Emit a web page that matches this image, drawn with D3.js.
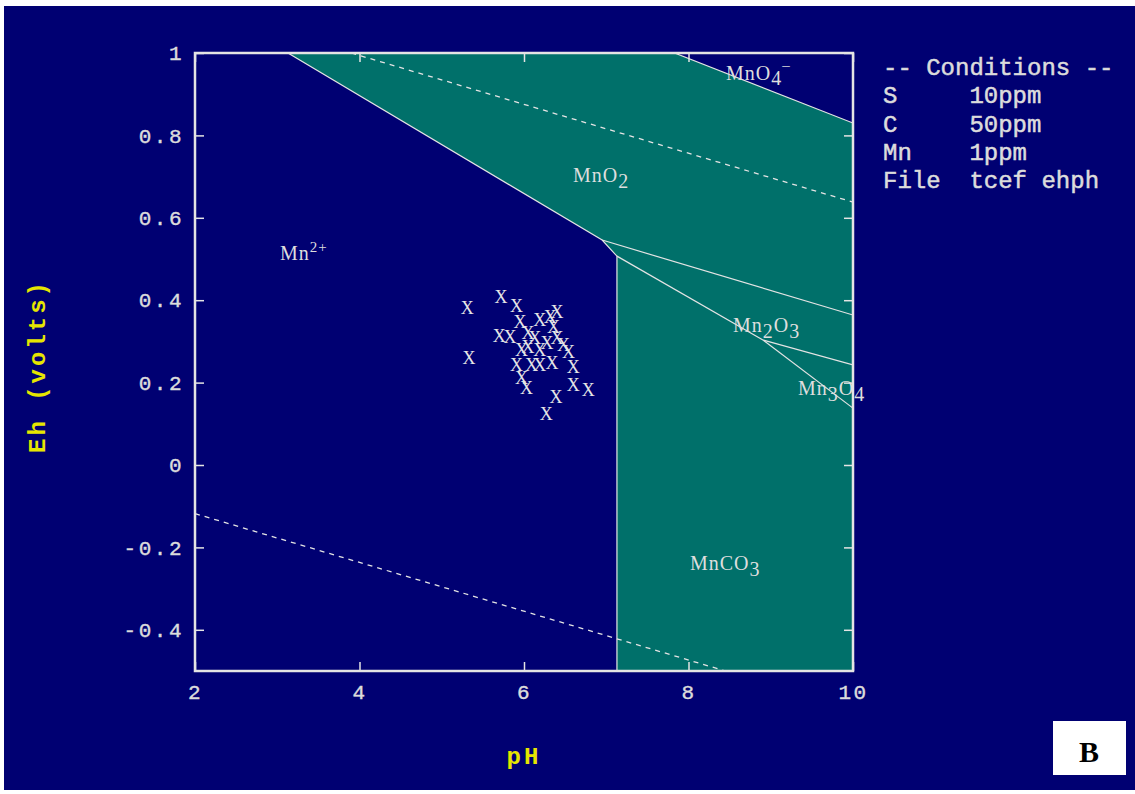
<!DOCTYPE html>
<html>
<head>
<meta charset="utf-8">
<script src="https://cdn.jsdelivr.net/npm/d3@7"></script>
<style>
  html, body { margin: 0; padding: 0; background: #fff; }
  svg { display: block; }
  text { white-space: pre; }
</style>
</head>
<body>
<svg id="chart" width="1135" height="794"></svg>
<script>
// boundary lines (pH, Eh)
var mn2Boundary = [[3.13, 1.0], [6.95, 0.546], [7.13, 0.507], [7.13, -0.5]];
var mno4Boundary = [[7.83, 1.0], [10, 0.830]];
var mno2Mn2o3 = [[6.95, 0.546], [10, 0.364]];
var mnco3Mn2o3 = [[7.13, 0.507], [8.91, 0.303]];
var mn2o3Mn3o4 = [[8.91, 0.303], [10, 0.243]];
var mn3o4Mnco3 = [[8.91, 0.303], [10, 0.138]];
var waterUpper = [[3.9, 1.0], [10, 0.638]];
var waterLower = [[2, -0.118], [8.45, -0.5]];

// sample points
var samplePH = [5.31, 5.72, 5.91, 5.95, 5.70, 5.83, 6.05, 6.19, 6.32, 6.40, 6.36, 6.40, 6.13,
                5.97, 6.19, 6.48, 6.54, 5.91, 6.09, 6.19, 6.34, 6.60, 5.33, 5.97, 6.03, 6.60,
                6.78, 6.39, 6.27, 6.05, 6.28];
var sampleEh = [0.380, 0.407, 0.386, 0.348, 0.313, 0.311, 0.320, 0.352, 0.360, 0.372, 0.336, 0.308, 0.308,
                0.279, 0.279, 0.291, 0.275, 0.243, 0.243, 0.243, 0.247, 0.237, 0.259, 0.210, 0.186, 0.194,
                0.182, 0.164, 0.125, 0.287, 0.295];

var xTicks = [2, 4, 6, 8, 10];
var yTicks = [-0.4, -0.2, 0, 0.2, 0.4, 0.6, 0.8, 1];
var conditions = ["-- Conditions --", "S     10ppm", "C     50ppm", "Mn    1ppm", "File  tcef ehph"];

var navy = "#000072", teal = "#00706a", lineCol = "#e4e4e4";

var svg = d3.select("#chart");
var pL = 195, pR = 853, pT = 53, pB = 671;
var x = d3.scaleLinear().domain([2, 10]).range([pL, pR]);
var y = d3.scaleLinear().domain([-0.5, 1]).range([pB, pT]);
var line = d3.line().x(function (d) { return x(d[0]); }).y(function (d) { return y(d[1]); });

svg.append("rect").attr("x", 4).attr("y", 6).attr("width", 1131).attr("height", 784).attr("fill", navy);

var clip = svg.append("clipPath").attr("id", "plotclip");
clip.append("rect").attr("x", pL).attr("y", pT).attr("width", pR - pL).attr("height", pB - pT);

var plot = svg.append("g").attr("clip-path", "url(#plotclip)");

// teal field of the solid phases
var field = mn2Boundary.concat([[10, -0.5], [10, mno4Boundary[1][1]], mno4Boundary[0]]);
plot.append("path").attr("d", line(field) + "Z").attr("fill", teal);

[waterUpper, waterLower].forEach(function (l) {
  plot.append("path").attr("d", line(l)).attr("fill", "none")
    .attr("stroke", lineCol).attr("stroke-width", 1.3).attr("stroke-dasharray", "5,5");
});

[mn2Boundary, mno4Boundary, mno2Mn2o3, mnco3Mn2o3, mn2o3Mn3o4, mn3o4Mnco3].forEach(function (l) {
  plot.append("path").attr("d", line(l)).attr("fill", "none")
    .attr("stroke", lineCol).attr("stroke-width", 1.2);
});

// X markers
svg.append("g").selectAll("text")
  .data(d3.range(samplePH.length))
  .enter().append("text")
  .attr("x", function (i) { return x(samplePH[i]); })
  .attr("y", function (i) { return y(sampleEh[i]) + 6; })
  .attr("text-anchor", "middle")
  .attr("font-family", "Liberation Serif")
  .attr("font-size", 18)
  .attr("fill", "#e6e6e6")
  .text("X");

// species labels
function species(px, py, parts) {
  var t = svg.append("text").attr("x", px).attr("y", py)
    .attr("font-family", "Liberation Serif").attr("font-size", 20)
    .attr("fill", "#dedede").attr("letter-spacing", 1);
  parts.forEach(function (p) {
    var s = t.append("tspan").text(p[0]);
    if (p[1]) s.attr("dy", p[1]);
    if (p[2]) s.attr("font-size", p[2]);
  });
}
species(280, 260, [["Mn"], ["2+", -8, 15]]);
species(573, 182, [["MnO"], ["2", 6]]);
species(726, 80, [["MnO"], ["4", 5], ["\u2013", -15, 15]]);
species(733, 332, [["Mn"], ["2", 6], ["O", -6], ["3", 6]]);
species(690, 570, [["MnCO"], ["3", 6]]);
species(798, 395, [["Mn"], ["3", 6], ["O", -6], ["4", 6]]);

// frame and ticks
svg.append("rect").attr("x", pL).attr("y", pT).attr("width", pR - pL).attr("height", pB - pT)
  .attr("fill", "none").attr("stroke", lineCol).attr("stroke-width", 2.5);

function styleAxis(g) {
  g.select(".domain").remove();
  g.selectAll("line").attr("stroke", lineCol).attr("stroke-width", 1.5);
  g.selectAll("text").attr("fill", "#dcdcdc").attr("font-family", "Liberation Mono")
    .attr("font-size", 21).attr("letter-spacing", 2.5)
    .attr("stroke", "#dcdcdc").attr("stroke-width", 0.4);
}
var fmtY = function (d) { return String(+d.toFixed(1)); };

svg.append("g").attr("transform", "translate(" + pL + ",0)")
  .call(d3.axisLeft(y).tickValues(yTicks).tickSize(-9).tickPadding(11).tickFormat(fmtY))
  .call(styleAxis);
svg.append("g").attr("transform", "translate(" + pR + ",0)")
  .call(d3.axisRight(y).tickValues(yTicks).tickSize(-9).tickFormat(""))
  .call(styleAxis);
svg.append("g").attr("transform", "translate(0," + pB + ")")
  .call(d3.axisBottom(x).tickValues(xTicks).tickSize(-9).tickPadding(13).tickFormat(d3.format("d")))
  .call(styleAxis);
svg.append("g").attr("transform", "translate(0," + pT + ")")
  .call(d3.axisTop(x).tickValues(xTicks).tickSize(-9).tickFormat(""))
  .call(styleAxis);

// axis titles
svg.append("text").attr("x", 524).attr("y", 764).attr("text-anchor", "middle")
  .attr("font-family", "Liberation Mono").attr("font-weight", "bold").attr("font-size", 24)
  .attr("letter-spacing", 3).attr("fill", "#e6e600").text("pH");
svg.append("text").attr("transform", "translate(45,366) rotate(-90)").attr("text-anchor", "middle")
  .attr("font-family", "Liberation Mono").attr("font-weight", "bold").attr("font-size", 24)
  .attr("letter-spacing", 3).attr("fill", "#e6e600").text("Eh (volts)");

// conditions block
svg.append("g").selectAll("text").data(conditions).enter().append("text")
  .attr("x", 883).attr("y", function (d, i) { return 75 + i * 28.3; })
  .attr("font-family", "Liberation Mono").attr("font-size", 24)
  .attr("fill", "#dcdcdc").attr("stroke", "#dcdcdc").attr("stroke-width", 0.5)
  .text(function (d) { return d; });

// panel letter
svg.append("rect").attr("x", 1053).attr("y", 721).attr("width", 73).attr("height", 54).attr("fill", "#fff");
svg.append("text").attr("x", 1089).attr("y", 762).attr("text-anchor", "middle")
  .attr("font-family", "Liberation Serif").attr("font-weight", "bold").attr("font-size", 30)
  .attr("fill", "#000").text("B");
</script>
</body>
</html>
